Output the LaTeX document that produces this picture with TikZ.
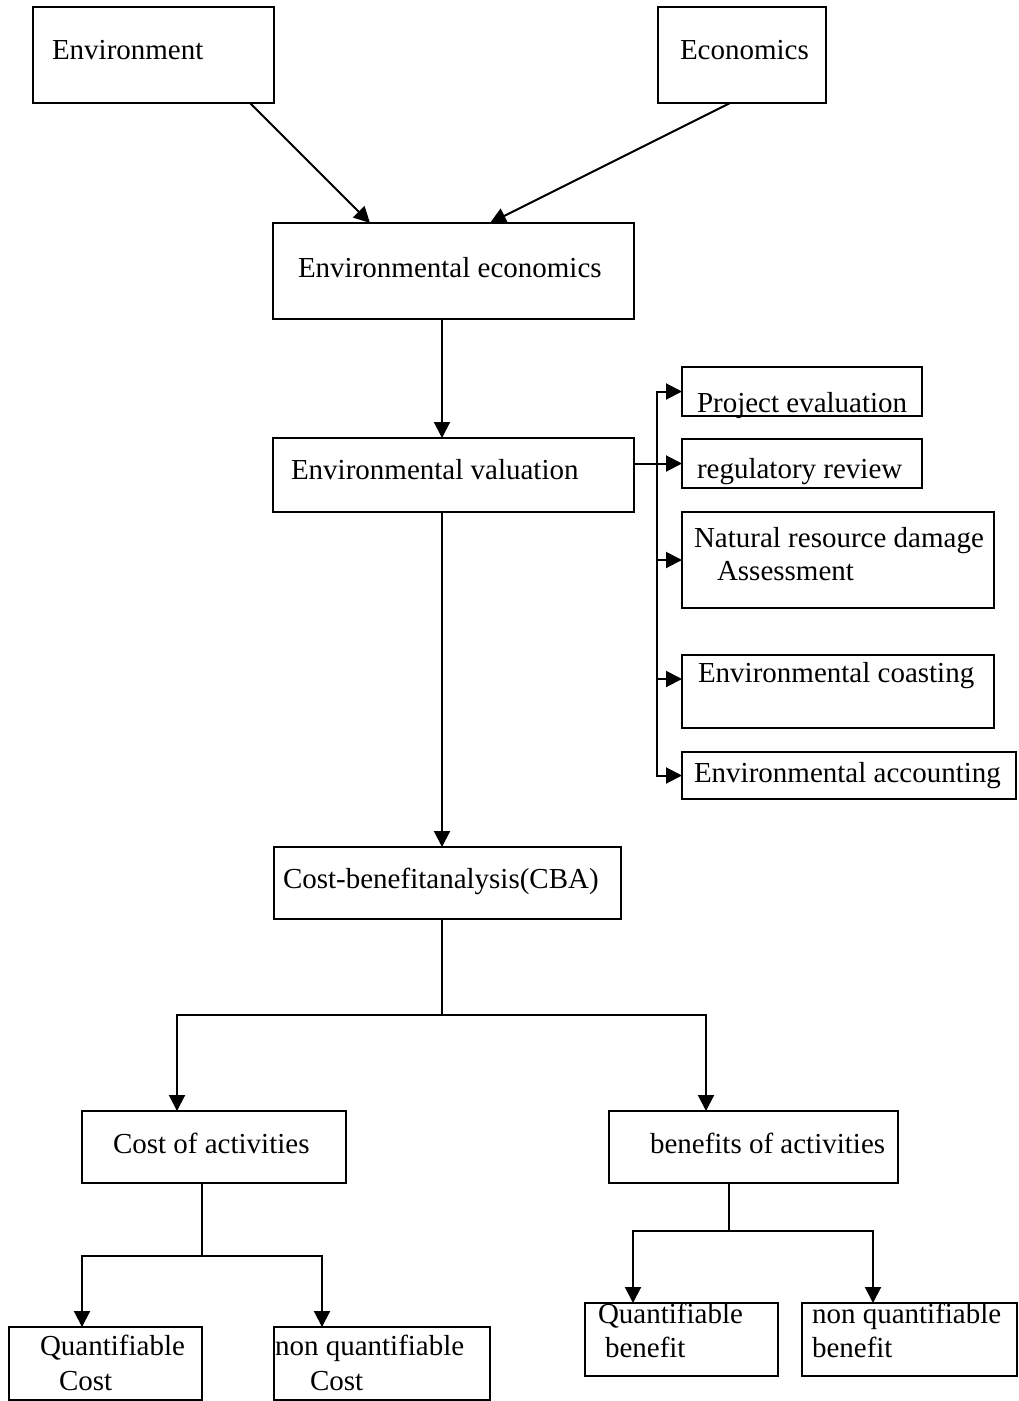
\documentclass[tikz,border=0pt]{standalone}
\usepackage{fontspec}
\setmainfont{Liberation Serif}
\usetikzlibrary{arrows.meta,calc}
\begin{document}
\begin{tikzpicture}[x=1pt,y=-1pt,
  box/.style={draw,line width=2pt,inner sep=0pt,outer sep=0pt,anchor=north west},
  txt/.style={inner sep=0pt,outer sep=0pt,anchor=base west,font=\fontsize{29}{34}\selectfont},
  con/.style={line width=2pt},
  arr/.style={line width=2pt,-{Triangle[length=16pt,width=16pt]}}]
\useasboundingbox (0,0) rectangle (1018,1401);
% boxes
\node[box,minimum width=241pt,minimum height=96pt] (env) at (33,7) {};
\node[box,minimum width=168pt,minimum height=96pt] (econ) at (658,7) {};
\node[box,minimum width=361pt,minimum height=96pt] (envecon) at (273,223) {};
\node[box,minimum width=361pt,minimum height=74pt] (val) at (273,438) {};
\node[box,minimum width=240pt,minimum height=49pt] (pe) at (682,367) {};
\node[box,minimum width=240pt,minimum height=49pt] (rr) at (682,439) {};
\node[box,minimum width=312pt,minimum height=96pt] (nrd) at (682,512) {};
\node[box,minimum width=312pt,minimum height=73pt] (ec) at (682,655) {};
\node[box,minimum width=334pt,minimum height=47pt] (ea) at (682,752) {};
\node[box,minimum width=347pt,minimum height=72pt] (cba) at (274,847) {};
\node[box,minimum width=264pt,minimum height=72pt] (cost) at (82,1111) {};
\node[box,minimum width=289pt,minimum height=72pt] (ben) at (609,1111) {};
\node[box,minimum width=193pt,minimum height=73pt] (qc) at (9,1327) {};
\node[box,minimum width=216pt,minimum height=73pt] (nqc) at (274,1327) {};
\node[box,minimum width=193pt,minimum height=73pt] (qb) at (585,1303) {};
\node[box,minimum width=215pt,minimum height=73pt] (nqb) at (802,1303) {};
% texts
\node[txt] (t1) at (52,59) {Environment};
\node[txt] (t2) at (680,59) {Economics};
\node[txt] (t3) at (298,277) {Environmental economics};
\node[txt] (t4) at (291,479) {Environmental valuation};
\node[txt] (t5) at (697,412) {Project evaluation};
\node[txt] (t6) at (697,478) {regulatory review};
\node[txt] (t7) at (694,547) {Natural resource damage};
\node[txt] (t7b) at (717,580) {Assessment};
\node[txt] (t8) at (698,682) {Environmental coasting};
\node[txt] (t9) at (694,782) {Environmental accounting};
\node[txt] (t10) at (283,888) {Cost-benefitanalysis(CBA)};
\node[txt] (t11) at (113,1153) {Cost of activities};
\node[txt] (t12) at (650,1153) {benefits of activities};
\node[txt] (t13) at (40,1355) {Quantifiable};
\node[txt] (t13b) at (59,1390) {Cost};
\node[txt] (t14) at (275,1355) {non quantifiable};
\node[txt] (t14b) at (310,1390) {Cost};
\node[txt] (t15) at (598,1323) {Quantifiable};
\node[txt] (t15b) at (605,1357) {benefit};
\node[txt] (t16) at (812,1323) {non quantifiable};
\node[txt] (t16b) at (812,1357) {benefit};
% connectors
\draw[arr] ([xshift=96.5]env.south) -- ([xshift=-83.5]envecon.north);
\draw[arr] ([xshift=-12]econ.south) -- ([xshift=36.5]envecon.north);
\draw[arr] ([xshift=-11.5]envecon.south) -- ([xshift=-11.5]val.north);
\draw[arr] ([xshift=-11.5]val.south) -- ([xshift=-11.5]val.south |- cba.north);
\coordinate (bus) at (657,0);
\draw[arr] (val.east |- rr.west) -- (rr.west);
\draw[arr] (bus |- ea.west) |- (pe.west);
\draw[arr] (bus |- pe.west) |- (ea.west);
\draw[arr] (bus |- nrd.west) -- (nrd.west);
\draw[arr] ([yshift=12.5]ec.west -| bus) -- ([yshift=12.5]ec.west);
\coordinate (j1) at (442,1015);
\draw[con] ([xshift=-5.5]cba.south) -- (j1);
\draw[arr] (j1) -| ([xshift=-37]cost.north);
\draw[arr] (j1) -| ([xshift=-47.5]ben.north);
\coordinate (j2) at (202,1256);
\draw[con] ([xshift=-12]cost.south) -- (j2);
\draw[arr] (j2) -| ([xshift=-23.5]qc.north);
\draw[arr] (j2) -| ([xshift=-60]nqc.north);
\coordinate (j3) at (729,1231);
\draw[con] ([xshift=-24.5]ben.south) -- (j3);
\draw[arr] (j3) -| ([xshift=-48.5]qb.north);
\draw[arr] (j3) -| ([xshift=-36.5]nqb.north);
\end{tikzpicture}
\end{document}
